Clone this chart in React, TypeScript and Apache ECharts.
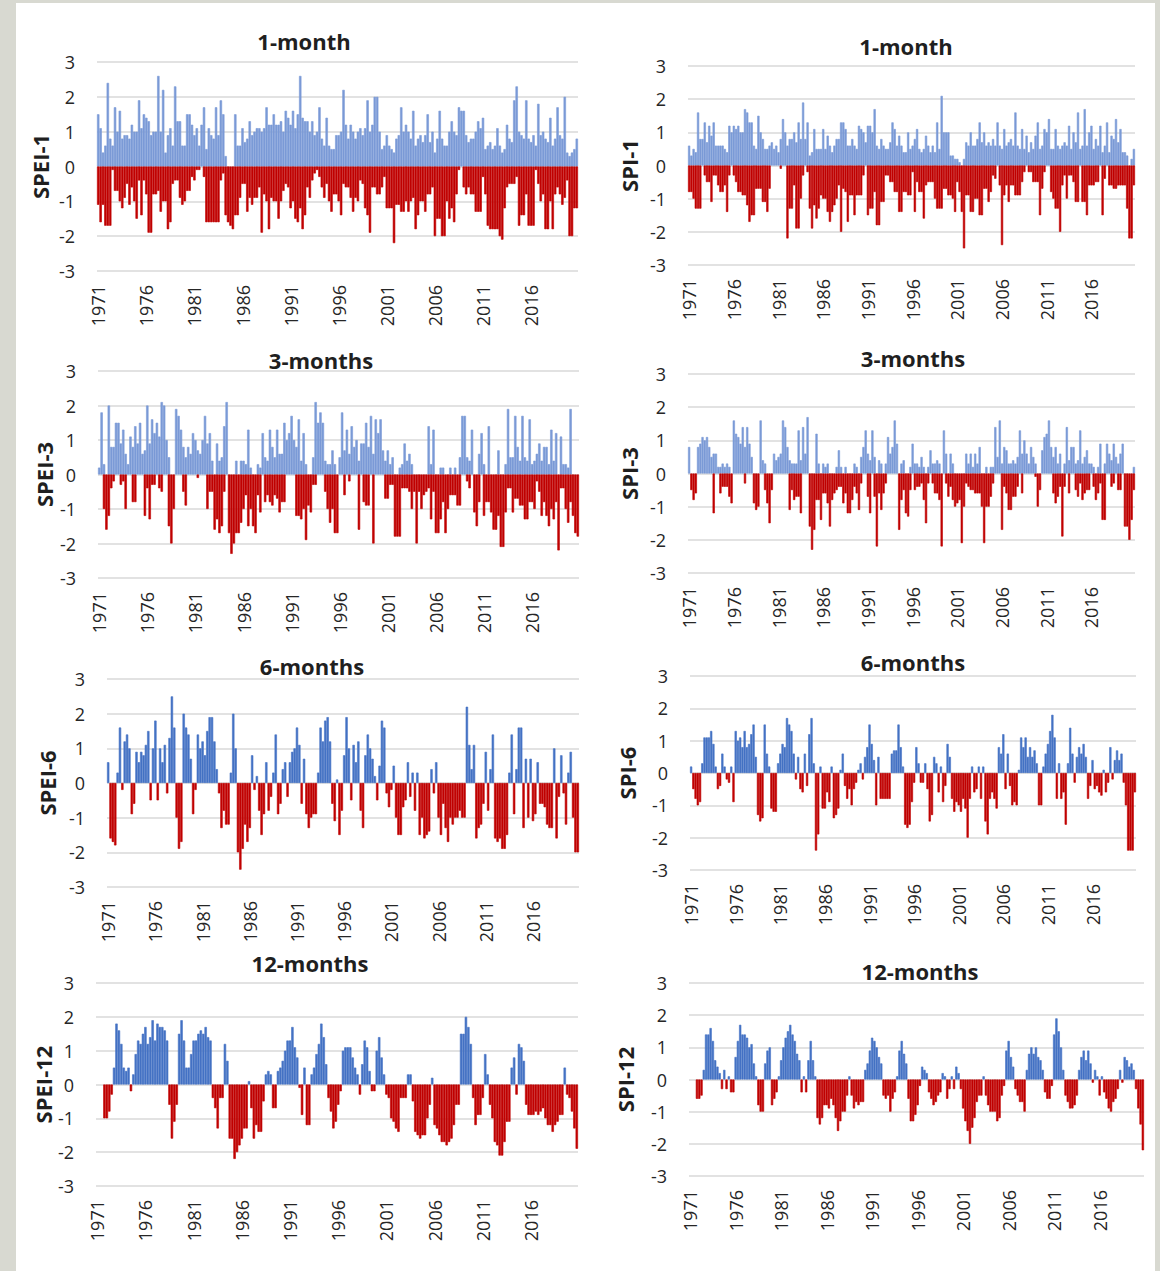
import React, { useEffect, useRef } from "react";
import * as echarts from "echarts";

// ---------- categories (quarterly steps, 1971-2020) ----------
const START_YEAR = 1971;
const N_YEARS = 50;
const QUARTERS = ["Q1", "Q2", "Q3", "Q4"];
const CATEGORIES: string[] = [];
for (let y = START_YEAR; y < START_YEAR + N_YEARS; y++) {
  for (const q of QUARTERS) CATEGORIES.push(`${y} ${q}`);
}
const TICK_YEARS = ["1971", "1976", "1981", "1986", "1991", "1996", "2001", "2006", "2011", "2016"];
const Y_TICKS = [-3, -2, -1, 0, 1, 2, 3];
const _ = null;

// ---------- short time scales: wettest (max) and driest (min) month in each quarter ----------
const SPEI1_WET = [
  1.5, 1.1, 0.4, 0.6, 2.4, 0.8, 0.6, 1.7, 1.0, 1.6, 0.8, 0.9, 0.9, 0.8, 1.2, 1.0,
  1.0, 1.9, 1.1, 1.5, 1.4, 1.3, 0.9, 1.0, 1.0, 2.6, 1.0, 2.2, 0.4, 0.9, 1.1, 0.6,
  2.3, 1.3, 1.3, 0.6, 0.6, 1.5, 1.5, 1.2, 0.9, 1.1, 0.6, 1.2, 1.7, 0.5, 1.1, 0.9,
  0.8, 1.7, 0.9, 1.9, 1.5, 0.3, _, _, _, 1.5, 0.6, 0.6, 1.1, 0.7, 0.8, 1.3,
  0.9, 1.0, 1.1, 1.1, 1.0, 1.1, 1.7, 1.2, 1.2, 1.5, 1.2, 1.2, 1.3, 1.0, 1.6, 1.4,
  1.2, 1.6, 1.1, 1.5, 2.6, 1.4, 1.3, 1.3, 1.0, 1.3, 0.9, 1.0, 1.7, 0.8, 0.6, 1.4,
  0.6, 0.5, 0.5, 0.9, 0.9, 1.0, 2.2, 1.2, 0.8, 1.2, 1.0, 0.8, 1.0, 1.1, 0.9, 1.1,
  1.9, 1.0, 1.2, 2.0, 2.0, 1.0, 0.5, 0.6, 0.9, 0.6, 0.5, 0.4, 0.8, 0.9, 1.7, 1.0,
  1.2, 1.0, 0.8, 1.6, 0.6, 0.8, 0.9, 0.7, 0.9, 1.5, 0.7, 1.0, 0.4, 0.8, 1.6, 0.8,
  0.6, 0.6, 1.0, 1.3, 1.0, 0.9, 1.7, 1.6, 1.6, 0.9, 0.7, 0.8, 0.8, 1.0, 1.3, 1.1,
  1.4, 0.5, 0.6, 0.7, 0.5, 0.6, 1.1, 0.6, 0.4, 0.5, 1.2, 0.8, 0.7, 1.9, 2.3, 1.0,
  0.9, 0.8, 1.9, 0.8, 0.7, 0.9, 0.6, 1.8, 0.9, 1.0, 0.8, 0.7, 1.4, 0.6, 0.8, 1.7,
  0.9, 0.8, 2.0, 0.4, 0.3, 0.4, 0.5, 0.8,
];
const SPEI1_DRY = [
  -1.1, -1.6, -1.1, -1.7, -1.7, -1.7, -0.1, -0.7, -0.7, -1.0, -1.2, -0.9, -0.5, -1.1, -0.6, -1.0,
  -1.5, -0.4, -1.4, -0.4, -0.8, -1.9, -1.9, -0.8, -0.8, -0.7, -1.3, -1.0, -1.0, -1.8, -1.6, -0.5,
  -0.4, -0.4, -0.9, -1.1, -1.0, -0.7, -0.7, -0.3, -0.4, -0.1, -0.1, _, -0.3, -1.6, -1.6, -1.6,
  -1.6, -1.6, -1.6, -0.4, -0.2, -1.4, -1.6, -1.7, -1.8, -1.4, -1.4, -0.9, -0.5, -0.5, -1.3, -0.9,
  -1.1, -0.9, -0.9, -0.6, -1.9, -0.8, -1.0, -1.8, -0.9, -1.0, -1.0, -1.5, -1.0, -0.7, -0.5, -0.6,
  -1.2, -1.0, -1.5, -1.6, -1.2, -1.8, -1.4, -0.6, -0.9, -0.4, -0.2, -0.1, -0.3, -0.6, -0.9, -0.5,
  -1.0, -1.3, -0.8, -0.8, -1.0, -1.4, -0.5, -0.6, -0.6, -0.9, -1.3, -0.9, -1.0, -0.4, -0.5, -1.2,
  -1.4, -1.9, -0.6, -0.6, -0.8, -0.8, -0.6, -0.3, -1.2, -1.2, -1.2, -2.2, -1.1, -1.1, -1.3, -1.3,
  -1.0, -1.3, -1.0, -0.9, -1.8, -1.4, -1.0, -1.0, -1.3, -0.8, -0.8, -0.6, -2.0, -1.5, -1.5, -2.0,
  -2.0, -1.0, -1.5, -1.2, -1.6, -0.8, -0.1, _, -0.6, -0.8, -0.6, -0.8, -0.8, -1.3, -1.3, -1.3,
  -0.3, -0.8, -1.7, -1.8, -1.8, -1.8, -1.8, -2.0, -2.1, -1.2, -0.6, -0.5, -0.5, -0.5, -0.3, -1.7,
  -1.4, -1.4, -0.8, -1.7, -1.7, -1.7, -0.1, -0.5, -1.0, -0.8, -1.8, -1.8, -1.0, -1.8, -0.8, -0.6,
  -0.8, -1.1, -0.9, -0.4, -2.0, -2.0, -1.2, -1.2,
];
const SPI1_WET = [
  0.6, 0.3, 0.5, 0.4, 1.6, 0.8, 0.8, 1.3, 0.7, 1.2, 0.9, 1.3, 0.6, 0.6, 0.6, 0.6,
  0.5, 0.4, 1.2, 1.0, 1.2, 1.1, 1.2, 1.0, 1.0, 1.7, 1.6, 1.3, 1.3, 0.6, 0.5, 1.5,
  1.0, 0.8, 0.5, 0.5, 0.6, 0.7, 0.5, 0.6, 0.4, 0.8, 1.4, 1.0, 0.6, 0.8, 0.8, 1.0,
  0.7, 1.3, 0.8, 1.9, 0.8, 1.3, 0.3, 0.4, 1.1, 0.5, 0.5, 0.5, 1.1, 0.5, 0.9, 0.6,
  0.4, 0.6, 0.8, 0.8, 1.3, 1.3, 1.1, 0.6, 0.6, 0.8, 0.6, 0.5, 1.2, 1.1, 1.0, 0.7,
  1.2, 1.2, 1.0, 1.7, 0.6, 0.5, 0.8, 0.6, 0.5, 0.5, 0.7, 1.3, 1.1, 0.6, 0.9, 0.6,
  0.4, 0.4, 1.0, 0.5, 0.6, 0.8, 1.1, 0.5, 0.4, 0.5, 0.9, 0.6, 0.4, 0.6, 0.4, 1.3,
  0.5, 2.1, 1.0, 1.0, 1.0, 0.3, 0.3, 0.2, 0.2, 0.1, _, 0.2, 0.7, 0.6, 1.0, 0.6,
  0.6, 0.8, 1.3, 0.7, 1.0, 0.6, 0.7, 0.6, 0.8, 0.6, 1.3, 0.6, 0.5, 1.1, 0.6, 0.7,
  0.8, 0.6, 1.6, 0.6, 0.5, 1.1, 0.5, 0.9, 0.4, 0.7, 0.5, 0.9, 1.3, 0.5, 0.6, 1.1,
  1.0, 1.4, 0.5, 0.5, 1.1, 0.6, 0.5, 0.6, 0.7, 0.6, 1.2, 0.5, 1.0, 0.7, 1.6, 0.5,
  0.6, 1.7, 0.6, 1.0, 1.2, 0.5, 0.8, 0.6, 1.2, 0.4, 0.6, 1.3, 0.4, 0.9, 0.8, 1.4,
  0.7, 1.1, 0.4, 0.4, 0.3, _, 0.2, 0.5,
];
const SPI1_DRY = [
  -0.8, -0.8, -1.0, -1.3, -1.3, -1.3, _, -0.3, -0.5, -0.5, -1.1, -0.3, -0.3, -0.6, -0.8, -0.8,
  -0.6, -1.4, -0.3, _, -0.3, -0.5, -0.8, -0.8, -0.9, -0.9, -1.2, -1.7, -1.5, -1.5, -0.7, -0.7,
  -0.7, -1.1, -1.1, -1.4, -0.7, _, _, _, _, -0.1, _, _, -2.2, -1.3, -1.3, -0.6,
  -1.9, -1.9, -1.0, -0.3, _, -0.2, -1.3, -1.9, -1.2, -1.6, -1.3, -0.9, -1.0, -1.0, -1.4, -1.7,
  -1.4, -1.2, -1.0, -0.6, -2.0, -0.7, -0.8, -1.7, -0.9, -0.9, -1.5, -0.9, -0.9, -0.9, -0.3, _,
  -1.5, -1.3, -1.3, -0.8, -1.8, -1.8, -1.1, -1.1, -0.3, -0.3, -0.5, -0.5, -0.8, -0.8, -1.4, -1.4,
  -0.8, -0.8, -0.9, -0.9, -0.2, -1.4, -0.5, -0.8, -0.8, -1.6, -0.6, -0.5, -0.5, -0.5, -1.0, -1.3,
  -1.3, -1.3, -0.7, -0.7, -0.9, -0.9, -1.0, -1.4, -0.5, -0.8, -1.4, -2.5, -0.9, -0.9, -1.4, -1.4,
  -1.0, -1.0, -1.5, -1.5, -0.7, -0.7, -1.1, -0.8, -0.3, -0.4, _, -0.6, -2.4, -0.9, -0.6, -1.1,
  -0.6, -0.6, -0.9, -0.9, -0.9, -0.5, -0.2, _, -0.2, -0.2, -0.5, -0.5, -0.5, -1.5, -0.7, -0.2,
  _, _, -0.8, -1.0, -1.3, -1.3, -2.0, -0.6, -0.3, -1.0, -0.3, -0.3, -0.5, -1.1, -1.1, _,
  -1.1, -1.1, -1.5, -0.6, -0.6, -0.6, -0.5, -0.5, _, -1.5, -0.4, _, -0.6, -0.6, -0.7, -0.7,
  -0.6, -0.6, -0.6, -0.6, -1.3, -2.2, -2.2, -0.6,
];
const SPEI3_WET = [
  0.2, 1.8, 0.3, _, 2.0, 0.8, 0.8, 1.5, 1.5, 0.9, 1.3, 0.6, 0.3, 1.1, 0.8, 1.4,
  0.9, 1.5, 0.6, 0.7, 2.0, 0.9, 1.6, 1.2, 1.5, 1.1, 2.1, 2.0, 1.0, 0.5, _, _,
  1.9, 1.7, 1.3, 0.8, 0.5, 0.8, 0.6, 1.2, 1.0, 0.7, 0.6, 1.0, 1.7, 0.9, 1.2, 0.4,
  _, 0.9, 0.4, 0.5, 1.4, 2.1, _, _, _, 0.4, _, 0.4, 0.4, 0.3, 1.3, 0.2,
  _, _, 0.3, 0.2, 1.2, 0.5, 0.4, 1.3, 0.8, 0.5, 1.3, 0.6, 0.6, 1.5, 1.0, 1.2,
  1.7, 1.0, 0.8, 1.6, 0.4, 1.2, 0.3, _, _, 0.5, 2.1, 1.5, 1.8, 1.5, 0.4, 0.3,
  0.3, 0.7, 0.3, _, 0.5, 1.8, 0.7, 1.3, 0.6, 1.4, 0.8, 1.0, 0.4, 0.9, 0.9, 1.5,
  0.8, 1.7, 0.6, 1.6, 1.2, 1.6, 0.7, 0.4, 0.7, 0.3, 0.5, _, _, 0.2, 0.3, 0.9,
  0.4, 0.6, 0.3, _, _, _, _, _, _, 1.4, 0.3, 1.3, _, _, 0.2, 0.2,
  _, _, 0.2, _, 0.2, _, 0.5, 1.7, 1.7, 0.5, 0.4, 1.3, _, _, 0.6, 1.2,
  0.3, _, 1.4, _, _, _, 0.7, _, _, 0.3, 1.9, 0.5, 0.5, 1.7, 0.8, 0.4,
  1.7, 0.5, 0.4, 1.6, 0.3, 0.4, 0.6, 0.9, 0.4, 0.8, 0.8, 0.3, 1.3, 0.4, 1.2, _,
  1.1, 0.3, 0.3, 0.2, 1.9, _, _, _,
];
const SPEI3_DRY = [
  _, _, -1.0, -1.6, -1.2, -0.4, -0.2, _, _, -0.3, -0.2, -1.0, _, _, -0.8, -0.8,
  _, _, _, -1.2, -0.4, -1.3, -0.3, -0.3, _, -0.4, -0.5, _, _, -1.5, -2.0, -1.0,
  _, _, _, -0.5, -0.9, _, _, _, _, -0.1, _, _, _, -1.0, -0.5, -0.5,
  -1.6, -1.3, -1.7, -1.5, -0.5, _, -1.7, -2.3, -2.0, -1.7, -1.7, -1.4, -1.0, -0.6, -1.5, -1.0,
  -1.5, -1.7, -0.6, -1.1, _, -0.8, -0.6, -0.8, -0.9, -0.6, -0.7, -1.1, -0.8, -0.8, _, _,
  _, _, -1.2, -1.2, -1.3, -1.0, -1.9, -0.9, -1.1, -0.3, -0.3, _, _, _, -0.5, -1.0,
  -1.4, -1.0, -1.7, -1.7, _, _, -0.6, _, -0.2, _, _, _, -1.6, _, -0.8, -0.9,
  -0.9, _, -2.0, _, _, _, _, -0.7, -0.7, -0.3, -0.3, -1.8, -1.8, -1.8, -0.4, -0.4,
  -0.4, -0.5, -1.0, -0.5, -2.0, -0.5, -1.0, -0.6, -0.5, -0.4, -1.3, -0.5, -1.7, -1.7, -1.3, -0.8,
  -1.7, -1.0, -0.6, -0.6, -0.6, -0.9, -0.9, _, _, -0.2, -0.4, _, -1.1, -1.5, -0.8, _,
  -1.2, -0.8, -0.8, -1.1, -1.6, -1.6, -1.2, -2.1, -2.1, -1.1, -0.4, -0.4, -1.1, -0.7, -0.7, -0.9,
  -0.9, -1.3, -1.3, -0.8, -0.8, -1.0, -0.2, -0.5, -1.2, -0.8, -1.2, -1.5, -1.0, -1.3, -0.8, -2.2,
  -0.4, -0.4, -1.0, -1.4, -0.8, -1.2, -1.7, -1.8,
];
const SPI3_WET = [
  0.8, _, _, _, 0.8, 0.9, 1.1, 1.0, 1.1, 0.8, 0.5, 0.6, 0.6, 0.2, 0.2, 0.3,
  0.2, 0.3, 0.2, _, 1.6, 1.2, 1.1, 0.9, 1.4, 0.8, 1.4, 0.9, 0.5, _, _, _,
  1.6, 0.4, 0.3, _, _, _, 0.6, 0.4, 0.5, 0.6, 1.6, 1.4, 0.8, 0.4, 0.3, 0.3,
  0.3, 1.3, 0.4, 1.4, 0.6, 1.7, _, _, _, 1.2, 0.3, _, 0.3, 0.2, 0.3, _,
  _, _, 0.2, 0.7, 0.2, _, 0.2, _, _, _, 0.3, 0.2, _, 0.5, 0.8, 1.3,
  0.6, 0.4, 1.3, 0.5, _, 0.4, 0.3, _, 0.3, 1.1, 0.6, 0.8, 1.6, 0.9, _, 0.3,
  0.4, _, _, 0.2, 0.9, 0.3, 0.3, 0.2, 0.5, 0.2, _, 0.2, 0.7, 0.3, 0.3, 0.4,
  0.3, _, 1.3, 0.6, _, 0.6, 0.3, _, _, _, _, _, 0.6, 0.3, 0.6, 0.2,
  0.6, 0.3, 0.8, _, _, 0.2, _, 0.2, 0.2, 1.4, 0.5, 1.6, 0.3, 0.8, 0.7, 0.3,
  0.3, 0.4, 0.3, 0.5, 1.3, 0.6, 1.0, 0.6, 0.3, 0.8, 0.5, 0.3, _, _, 0.7, 1.1,
  1.2, 1.6, 0.8, 0.5, 0.8, 0.3, 0.6, _, 0.3, 1.4, 0.4, 0.8, 0.8, 0.3, 0.4, 1.3,
  0.3, 0.5, 0.7, 0.3, 0.3, 0.2, _, 0.2, 0.9, _, 0.3, 0.9, 0.6, 0.4, 0.9, 0.5,
  0.3, 0.6, 0.9, _, _, _, _, 0.2,
];
const SPI3_DRY = [
  _, -0.5, -0.8, -0.6, _, _, _, _, _, _, _, -1.2, _, _, -0.6, -0.4,
  -0.4, -0.4, -0.7, -0.9, _, _, _, _, _, -0.3, _, _, _, -0.9, -1.1, -1.0,
  _, _, -0.5, -0.9, -1.5, -0.5, _, _, _, _, _, _, _, -1.1, -0.5, -0.8,
  -0.7, -0.7, -1.2, _, _, _, -1.6, -2.3, -1.7, -0.8, -0.8, -1.4, -0.6, -0.6, -0.9, -1.6,
  -0.8, -0.6, -0.5, -0.4, -0.4, -0.9, -0.6, -1.2, -1.2, -0.8, -0.4, -0.6, -1.1, -0.3, _, _,
  -0.7, -1.2, _, -0.7, -2.2, -0.6, -1.1, -0.6, -0.3, _, _, _, _, _, -1.7, -0.8,
  -0.5, -1.2, -1.3, -0.5, _, -0.5, -0.4, -0.4, -0.3, -0.8, -1.5, -0.3, _, -0.3, -0.6, -0.6,
  -0.8, -2.2, _, -0.3, -0.7, -0.4, -0.8, -1.0, -0.9, -0.8, -2.1, -1.0, -0.3, -0.4, -0.5, -0.5,
  -0.6, -0.6, -0.6, -1.0, -2.1, -1.0, -1.0, -0.7, -0.3, _, _, _, -1.7, -0.4, -0.6, -1.1,
  -1.1, -0.7, -0.7, -0.4, _, -0.6, _, _, _, _, _, -0.1, -1.0, -0.5, _, _,
  _, _, _, -0.6, -0.9, -0.7, -0.4, -1.9, -0.4, _, -0.6, _, _, -0.5, -0.7, -0.3,
  -0.8, -0.6, -0.5, -0.5, _, -0.4, -0.8, -0.6, -0.3, -1.4, -1.4, _, _, -0.4, -0.3, _,
  -0.5, -0.5, _, -1.6, -1.6, -2.0, -1.4, -0.5,
];

// ---------- long time scales: one value per quarter ----------
const SPEI6 = [
  0.6, -1.6, -1.7, -1.8, 0.3, 1.6, -0.2, 1.2, 1.4, 1.0, -0.9, -0.6, 0.9, 0.6, 0.9, 0.8,
  1.1, 1.5, -0.5, 1.0, 1.8, -0.5, 1.0, 0.6, 1.1, -0.3, 1.3, 2.5, 1.6, -1.0, -1.9, -1.7,
  2.0, 1.6, 1.4, 0.7, -0.9, -0.2, 1.4, 1.0, 1.2, 0.8, 1.5, 1.9, 1.9, 1.2, 0.4, -0.3,
  -1.3, -0.8, -1.2, -1.2, 0.3, 2.0, 1.0, -2.0, -2.5, -1.9, -1.2, -1.7, -1.3, 0.8, -0.2, 0.2,
  -0.8, -1.5, -0.9, 0.6, -0.8, -0.4, 0.3, 1.4, -0.9, -0.6, 0.4, 0.6, -0.4, 0.6, 0.9, 1.0,
  1.6, 1.1, -0.6, 0.7, -0.9, -1.3, -1.0, -0.9, -0.9, 0.3, 1.6, 1.2, 1.8, 1.9, 1.2, -0.6,
  -1.1, 0.1, -1.5, -0.8, 0.8, 1.9, 1.0, -0.5, 1.1, 0.6, 1.2, -0.8, -1.3, 0.8, 1.4, 1.0,
  0.7, 0.2, -0.5, 0.5, 1.8, 1.6, -0.3, -0.7, -0.2, 0.5, -1.0, -1.5, -1.5, -0.7, -0.5, 0.6,
  -0.4, 0.3, -0.8, 0.3, -1.5, -1.0, -1.6, -1.5, -1.4, 0.4, -0.3, 0.6, -1.0, -1.5, -0.6, -1.3,
  -1.7, -1.0, -1.2, -1.0, -1.0, -0.8, -1.0, -1.0, 2.2, 1.1, 0.4, 1.1, -1.6, -1.3, -1.2, -0.6,
  0.9, -0.8, 0.4, 1.4, -1.6, -1.7, -1.6, -1.9, -1.9, -1.5, 0.3, 1.4, -0.9, 0.4, 1.6, 1.6,
  -1.3, 0.7, -1.0, 0.7, -1.1, -0.9, 0.6, -0.6, -0.6, -0.7, -1.2, -1.3, -1.3, 1.0, -1.6, -0.4,
  0.8, -0.3, -1.2, 0.3, 0.9, -1.0, -2.0, -2.0,
];
const SPI6 = [
  0.2, -0.5, -0.8, -1.0, -0.9, 0.3, 1.1, 1.1, 1.1, 1.3, 0.9, 0.2, -0.5, -0.4, 0.6, 0.2,
  -0.2, -0.3, 0.2, -0.9, 1.3, 1.0, 1.1, 0.8, 1.3, 0.8, 0.9, 1.2, 1.5, 0.5, -1.3, -1.5,
  -1.4, 1.5, 0.6, 0.2, -1.1, -1.2, -1.2, 0.3, 0.6, 0.9, 0.8, 1.7, 1.5, 1.3, 0.6, -0.2,
  0.5, -0.5, -0.6, 0.6, -0.4, 1.2, 1.7, 0.3, -2.4, -1.9, 0.2, -1.1, -1.1, -0.6, -0.9, 0.2,
  -1.4, -1.3, -1.1, 0.1, 0.6, -0.4, -0.8, -0.5, -1.0, -0.5, -0.3, 0.1, 0.3, -0.2, 0.5, 0.8,
  1.5, 0.9, 0.4, -1.0, 0.5, -0.8, -0.8, -0.8, -0.8, -0.8, 0.6, 0.7, 0.7, 1.5, 0.8, 0.2,
  -1.6, -1.7, -1.6, -0.9, -0.3, 0.8, 0.3, -0.3, -0.3, 0.3, -0.5, -1.5, -1.3, 0.5, 0.3, -0.6,
  0.2, -0.9, -0.4, 0.9, 0.5, -0.8, -1.2, -0.9, -1.0, -1.2, -0.8, -1.1, -2.0, -0.8, 0.2, -0.6,
  -0.5, 0.2, -0.8, 0.2, -1.5, -1.9, -0.8, -0.6, -0.8, -1.1, 0.8, 0.6, 1.2, -0.5, 0.6, -0.4,
  -1.0, -0.9, -1.0, 0.1, 1.1, 0.8, 1.1, 0.5, 0.8, 0.5, 0.7, 0.3, -1.0, -1.0, 0.2, 0.6,
  0.9, 1.3, 1.8, 1.1, -0.8, 0.3, -0.8, -0.6, -1.6, 0.3, 1.4, 0.6, -0.3, 0.5, 0.8, 0.6,
  0.9, 0.5, -0.8, -0.4, 0.4, -0.5, -0.4, -0.6, -0.7, 0.1, -0.6, -0.3, 0.8, -0.2, 0.4, 0.7,
  0.4, 0.6, -0.3, -1.0, -2.4, -2.4, -2.4, -0.6,
];
const SPEI12 = [
  _, _, _, -1.0, -1.0, -0.8, -0.3, 0.5, 1.8, 1.6, 1.2, 0.5, 0.4, 0.5, -0.2, 0.3,
  0.9, 1.3, 1.2, 1.5, 1.7, 1.2, 1.4, 1.9, 1.3, 1.8, 1.7, 1.7, 1.6, 1.3, -0.6, -1.6,
  -1.1, -0.6, 1.5, 1.9, 1.3, 0.5, 0.5, 0.9, 1.3, 1.3, 1.5, 1.6, 1.5, 1.7, 1.4, 1.3,
  -0.4, -0.7, -1.3, -0.4, -0.4, 1.2, 0.7, -1.6, -1.6, -2.2, -2.0, -1.8, -1.6, -1.3, -1.3, 0.1,
  -0.7, -1.6, -1.2, -1.4, -1.4, -0.5, 0.3, 0.4, 0.3, -0.7, -0.7, 0.4, 0.5, 0.7, 1.0, 1.3,
  1.3, 1.7, 1.1, 0.8, -0.1, -0.9, 0.5, -1.2, -1.2, 0.3, 0.5, 0.9, 1.2, 1.8, 1.4, 0.6,
  -0.4, -0.8, -1.3, -1.1, -0.6, -0.2, 1.0, 1.1, 1.1, 1.1, 0.8, 0.5, 0.3, -0.3, 0.6, 1.3,
  1.1, 0.4, -0.2, -0.2, 1.0, 1.4, 0.8, 0.3, -0.3, -0.4, -1.0, -1.1, -1.3, -1.4, -0.4, -0.4,
  -0.4, 0.3, 0.3, -0.5, -1.4, -1.5, -1.6, -1.5, -1.5, -1.0, -0.6, 0.2, -1.2, -1.3, -1.5, -1.7,
  -1.7, -1.8, -1.7, -1.6, -1.2, -0.6, -0.6, 1.5, 1.5, 2.0, 1.7, 1.2, -0.4, -1.2, -0.9, -0.9,
  -0.4, 0.9, 0.3, -0.6, -1.0, -1.7, -1.8, -2.1, -2.1, -1.7, -1.1, -1.1, 0.5, 0.8, -0.3, 1.2,
  1.1, 0.7, -0.6, -0.9, -0.9, -0.9, -0.8, -0.9, -0.8, -0.7, -1.0, -1.2, -1.2, -1.4, -1.2, -1.1,
  -0.9, -0.9, 0.5, -0.3, -0.4, -0.8, -1.3, -1.9,
];
const SPI12 = [
  _, _, _, -0.6, -0.6, -0.5, 0.3, 1.4, 1.4, 1.6, 1.2, 0.6, 0.4, 0.2, -0.3, 0.3,
  -0.3, 0.1, -0.4, -0.4, 0.7, 1.2, 1.7, 1.4, 1.4, 1.3, 1.0, 1.1, 0.5, 0.1, -0.8, -1.0,
  -1.0, 0.5, 0.9, 1.0, -0.8, -0.6, -0.4, 0.1, 0.6, 1.0, 1.3, 1.5, 1.7, 1.4, 1.2, 0.8,
  0.6, -0.4, 0.1, -0.4, 0.6, 1.2, 0.6, 0.1, -1.2, -1.4, -1.2, -0.8, -0.8, -0.9, -0.6, -0.8,
  -1.2, -1.6, -1.3, -1.0, -1.0, -0.5, 0.1, -0.5, -0.9, -0.7, -0.8, -0.7, -0.7, 0.3, 0.5, 0.9,
  1.3, 1.2, 1.0, 0.7, 0.5, -0.5, -0.6, -0.5, -1.0, -0.6, -0.4, 0.1, 0.9, 1.2, 0.8, 0.5,
  -0.6, -1.3, -1.3, -1.1, -0.8, -0.2, 0.4, 0.3, 0.2, -0.4, -0.6, -0.8, -0.7, -0.5, -0.4, 0.2,
  0.1, -0.6, -0.3, 0.1, -0.3, 0.4, 0.2, -0.3, -0.9, -1.3, -1.6, -2.0, -1.5, -1.2, -0.7, -0.5,
  -0.5, 0.1, -0.5, -0.8, -1.0, -1.0, -1.0, -1.3, -1.2, -0.5, -0.2, 0.9, 1.2, 0.7, 0.4, -0.3,
  -0.5, -0.7, -0.7, -1.0, 0.3, 0.8, 1.0, 0.8, 1.0, 0.7, 0.6, 0.3, -0.4, -0.6, -0.6, -0.2,
  1.4, 1.9, 1.5, 1.0, 0.3, -0.5, -0.7, -0.9, -0.9, -0.8, -0.5, 0.3, 0.7, 0.9, 0.6, 0.9,
  0.5, -0.1, 0.3, 0.1, -0.5, 0.1, -0.4, -0.6, -0.9, -1.0, -0.7, -0.6, -0.3, 0.3, -0.1, 0.7,
  0.6, 0.4, 0.5, 0.3, -0.3, -0.9, -1.4, -2.2,
];

const TITLES = ["1-month", "1-month", "3-months", "3-months", "6-months", "6-months", "12-months", "12-months"];
const INDEX_NAMES = ["SPEI-1", "SPI-1", "SPEI-3", "SPI-3", "SPEI-6", "SPI-6", "SPEI-12", "SPI-12"];

const posPart = (arr: (number | null)[]) => arr.map((v) => (v != null && v >= 0 ? v : null));
const negPart = (arr: (number | null)[]) => arr.map((v) => (v != null && v < 0 ? v : null));

const PANEL_DATA = [
  { wet: SPEI1_WET, dry: SPEI1_DRY },
  { wet: SPI1_WET, dry: SPI1_DRY },
  { wet: SPEI3_WET, dry: SPEI3_DRY },
  { wet: SPI3_WET, dry: SPI3_DRY },
  { wet: posPart(SPEI6), dry: negPart(SPEI6) },
  { wet: posPart(SPI6), dry: negPart(SPI6) },
  { wet: posPart(SPEI12), dry: negPart(SPEI12) },
  { wet: posPart(SPI12), dry: negPart(SPI12) },
];

// ---------- layout (pixels) ----------
const LAYOUT = [
  { left: 97, top: 62, width: 481, height: 209, tx: 304, ty: 43, gap: 46 },
  { left: 688, top: 66, width: 447, height: 199, tx: 906, ty: 48, gap: 48 },
  { left: 98, top: 371, width: 481, height: 207, tx: 321, ty: 362, gap: 43 },
  { left: 688, top: 374, width: 447, height: 199, tx: 913, ty: 360, gap: 48 },
  { left: 107, top: 679, width: 472, height: 208, tx: 312, ty: 668, gap: 49 },
  { left: 690, top: 676, width: 446, height: 194, tx: 913, ty: 664, gap: 52 },
  { left: 96, top: 983, width: 482, height: 203, tx: 310, ty: 965, gap: 40 },
  { left: 689, top: 983, width: 455, height: 193, tx: 920, ty: 973, gap: 53 },
];

const BLUE = "#4472C4";
const BLUE_LIGHT = "#7B9AD6";
const RED = "#C00000";
const FONT = "'Open Sans', 'DejaVu Sans', sans-serif";

export default function App() {
  const ref = useRef<HTMLDivElement>(null);

  useEffect(() => {
    if (!ref.current) return;
    const chart = echarts.init(ref.current, undefined, { renderer: "svg" });
    const series: any[] = [];
    PANEL_DATA.forEach((p, i) => {
      const blue = i < 4 ? BLUE_LIGHT : BLUE;
      series.push({
        type: "bar",
        name: INDEX_NAMES[i] + " wet",
        xAxisIndex: i,
        yAxisIndex: i,
        barCategoryGap: "0%",
        barGap: "-100%",
        itemStyle: { color: blue, borderColor: blue, borderWidth: 0.6 },
        data: p.wet.map((v) => (v == null ? "-" : v)),
      });
      series.push({
        type: "bar",
        name: INDEX_NAMES[i] + " dry",
        xAxisIndex: i,
        yAxisIndex: i,
        barCategoryGap: "0%",
        barGap: "-100%",
        itemStyle: { color: RED, borderColor: RED, borderWidth: 0.6 },
        data: p.dry.map((v) => (v == null ? "-" : v)),
      });
    });
    const option: any = {
      animation: false,
      backgroundColor: "transparent",
      title: LAYOUT.map((l, i) => ({
        text: TITLES[i],
        left: l.tx,
        top: l.ty - 13,
        textAlign: "center",
        padding: 0,
        textStyle: { fontFamily: FONT, fontSize: 22, fontWeight: "bold", color: "#1f1f1f" },
      })),
      grid: LAYOUT.map((l) => ({ left: l.left, top: l.top, width: l.width, height: l.height })),
      xAxis: LAYOUT.map((l, i) => ({
        type: "category",
        gridIndex: i,
        data: CATEGORIES,
        axisLine: { show: false, onZero: false },
        axisTick: { show: false },
        splitLine: { show: false },
        axisLabel: {
          interval: 19,
          rotate: 90,
          margin: 14,
          fontFamily: FONT,
          fontSize: 18,
          color: "#262626",
          formatter: (v: string) => {
            const y = v.slice(0, 4);
            return TICK_YEARS.includes(y) ? y : "";
          },
        },
      })),
      yAxis: LAYOUT.map((l, i) => ({
        type: "value",
        gridIndex: i,
        min: Y_TICKS[0],
        max: Y_TICKS[Y_TICKS.length - 1],
        interval: 1,
        name: INDEX_NAMES[i],
        nameLocation: "middle",
        nameGap: l.gap,
        nameTextStyle: { fontFamily: FONT, fontSize: 22, fontWeight: "bold", color: "#1f1f1f" },
        axisLine: { show: false },
        axisTick: { show: false },
        axisLabel: { margin: 22, fontFamily: FONT, fontSize: 18, color: "#262626" },
        splitLine: { lineStyle: { color: "#d9d9d9", width: 1.5 } },
      })),
      series,
    };
    chart.setOption(option);
    return () => chart.dispose();
  }, []);

  return (
    <div style={{ position: "absolute", left: 0, top: 0, width: 1160, height: 1271, background: "#d8d9d1", overflow: "hidden" }}>
      <div style={{ position: "absolute", left: 16, top: 3, width: 1139, height: 1268, background: "#ffffff" }} />
      <div ref={ref} style={{ position: "absolute", left: 0, top: 0, width: 1160, height: 1271 }} />
    </div>
  );
}
